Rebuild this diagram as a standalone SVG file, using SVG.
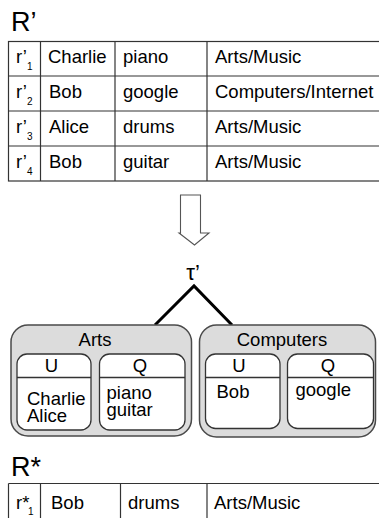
<svg xmlns="http://www.w3.org/2000/svg" width="379" height="518" viewBox="0 0 379 518">
<style>
text{font-family:"Liberation Sans",Arial,sans-serif;fill:#000}
.t{font-size:18.5px}
.title{font-size:27px}
.sub{font-size:10px}
.m{text-anchor:middle}
.grid{stroke:#333;stroke-width:1.2;fill:none}
.outer{fill:#dcdcdc;stroke:#4a4a4a;stroke-width:1.5}
.inner{fill:#fff;stroke:#333;stroke-width:1.3}
.div{stroke:#333;stroke-width:1.3}
.edge{stroke:#000;stroke-width:3;fill:none}
</style>
<rect width="379" height="518" fill="#fff"/>

<g id="table-Rprime">
<text class="title" x="11" y="31">R’</text>
<g class="grid">
<rect x="8.5" y="41.5" width="380" height="139.5"/>
<line x1="8.5" y1="76" x2="379" y2="76"/>
<line x1="8.5" y1="111" x2="379" y2="111"/>
<line x1="8.5" y1="146" x2="379" y2="146"/>
<line x1="40.5" y1="41.5" x2="40.5" y2="181"/>
<line x1="115" y1="41.5" x2="115" y2="181"/>
<line x1="207" y1="41.5" x2="207" y2="181"/>
</g>
<text class="t" x="16" y="63">r’</text><text class="sub" x="27" y="70">1</text>
<text class="t" x="48" y="63">Charlie</text>
<text class="t" x="123" y="63">piano</text>
<text class="t" x="215" y="63">Arts/Music</text>
<text class="t" x="16" y="98">r’</text><text class="sub" x="27" y="105">2</text>
<text class="t" x="49" y="98">Bob</text>
<text class="t" x="123" y="98">google</text>
<text class="t" x="215" y="98">Computers/Internet</text>
<text class="t" x="16" y="133">r’</text><text class="sub" x="27" y="140">3</text>
<text class="t" x="49" y="133">Alice</text>
<text class="t" x="123" y="133">drums</text>
<text class="t" x="215" y="133">Arts/Music</text>
<text class="t" x="16" y="168">r’</text><text class="sub" x="27" y="175">4</text>
<text class="t" x="49" y="168">Bob</text>
<text class="t" x="123" y="168">guitar</text>
<text class="t" x="215" y="168">Arts/Music</text>
</g>

<g id="arrow">
<polygon points="180.5,195 200.5,195 200.5,233 209,233 194.5,245 179,233 180.5,233" fill="#fff" stroke="#555" stroke-width="1.1"/>
</g>

<g id="tau">
<text x="193" y="280" class="m" style="font-size:22px">τ’</text>
</g>

<g id="connectors">
<polyline class="edge" points="155,325 194,286 232,325"/>
</g>

<g id="node-arts">
<rect class="outer" x="11" y="325" width="180.5" height="111" rx="17"/>
<text class="t m" x="95" y="346">Arts</text>
<rect class="inner" x="17" y="354" width="74" height="76" rx="10"/>
<line class="div" x1="17" y1="377.5" x2="91" y2="377.5"/>
<text class="t m" x="51.5" y="372">U</text>
<text class="t" x="27" y="405">Charlie<tspan x="27" dy="17">Alice</tspan></text>
<rect class="inner" x="99.5" y="354" width="85.5" height="76" rx="10"/>
<line class="div" x1="99.5" y1="377.5" x2="185" y2="377.5"/>
<text class="t m" x="140" y="372">Q</text>
<text class="t" x="106.5" y="399">piano<tspan x="106.5" dy="17">guitar</tspan></text>
</g>

<g id="node-computers">
<rect class="outer" x="199.5" y="325" width="176" height="112" rx="17"/>
<text class="t m" x="282" y="346">Computers</text>
<rect class="inner" x="205.5" y="354" width="74.5" height="74.5" rx="10"/>
<line class="div" x1="205.5" y1="377.5" x2="280" y2="377.5"/>
<text class="t m" x="239" y="372">U</text>
<text class="t" x="216.5" y="398">Bob</text>
<rect class="inner" x="287.5" y="354" width="86" height="74.5" rx="10"/>
<line class="div" x1="287.5" y1="377.5" x2="373.5" y2="377.5"/>
<text class="t m" x="328" y="372">Q</text>
<text class="t" x="295.5" y="396">google</text>
</g>

<g id="table-Rstar">
<text class="title" x="11" y="476">R*</text>
<g class="grid">
<line x1="8.5" y1="483.5" x2="379" y2="483.5"/>
<line x1="8.5" y1="483.5" x2="8.5" y2="518"/>
<line x1="40.5" y1="483.5" x2="40.5" y2="518"/>
<line x1="120.5" y1="483.5" x2="120.5" y2="518"/>
<line x1="207" y1="483.5" x2="207" y2="518"/>
</g>
<text class="t" x="16" y="509">r*</text><text class="sub" x="28" y="515">1</text>
<text class="t" x="51" y="509">Bob</text>
<text class="t" x="128" y="509">drums</text>
<text class="t" x="214" y="509">Arts/Music</text>
</g>
</svg>
